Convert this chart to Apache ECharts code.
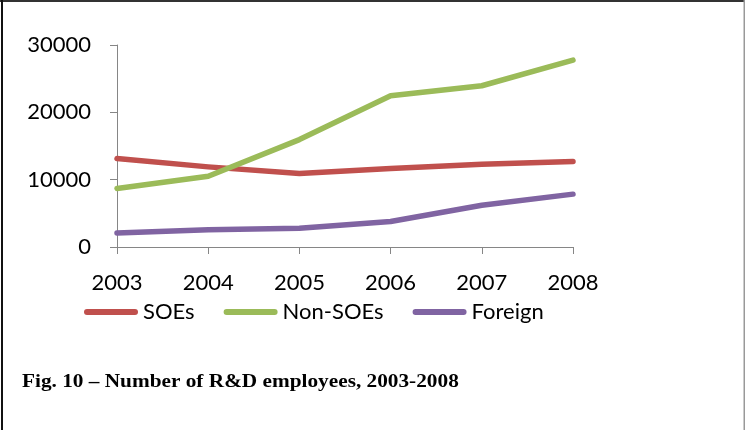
<!DOCTYPE html>
<html>
<head>
<meta charset="utf-8">
<script src="https://cdn.jsdelivr.net/npm/echarts@6/dist/echarts.min.js"></script>
<style>
html,body{margin:0;padding:0;background:#fff;}
#c{width:745px;height:430px;}
</style>
</head>
<body>
<div id="c"></div>
<script>
var years = ['2003','2004','2005','2006','2007','2008'];
var seriesNames = ['SOEs','Non-SOEs','Foreign'];
var soes = [13150, 11900, 10900, 11650, 12300, 12700];
var nonSoes = [8700, 10500, 15950, 22450, 23950, 27750];
var foreign = [2080, 2580, 2780, 3780, 6200, 7850];
var yTicks = [0, 10000, 20000, 30000];
var caption = 'Fig. 10 \u2013 Number of R&D employees, 2003-2008';

var colors = ['#C0504D', '#9BBB59', '#8064A2'];
var legendIcon = 'path://M3,0 L51,0 A3,3 0 0 1 51,6 L3,6 A3,3 0 0 1 3,0 Z';
var font = 'Lato';

var chart = echarts.init(document.getElementById('c'), null, {renderer: 'canvas'});
function mk(name, data, i) {
  return {
    name: name, type: 'line', data: data, symbol: 'none', smooth: false,
    lineStyle: {color: colors[i], width: 5.5, cap: 'round', join: 'round'},
    itemStyle: {color: colors[i]},
    emphasis: {disabled: true}, animation: false
  };
}
chart.setOption({
  animation: false,
  grid: {left: 117, right: 172, top: 45, bottom: 183, containLabel: false},
  xAxis: {
    type: 'category', data: years, boundaryGap: false,
    axisLine: {show: true, lineStyle: {color: '#868686', width: 1}},
    axisTick: {show: true, alignWithLabel: true, length: 7, lineStyle: {color: '#868686'}},
    axisLabel: {color: '#000', fontFamily: font, fontSize: 22, margin: 25}
  },
  yAxis: {
    type: 'value', min: yTicks[0], max: yTicks[yTicks.length - 1], interval: yTicks[1] - yTicks[0],
    axisLine: {show: true, lineStyle: {color: '#868686', width: 1}},
    axisTick: {show: true, length: 7, lineStyle: {color: '#868686'}},
    splitLine: {show: false},
    axisLabel: {color: '#000', fontFamily: font, fontSize: 22, margin: 26,
      formatter: function (v) { return String(v); }}
  },
  legend: {
    data: seriesNames.map(function (n) { return {name: n, icon: legendIcon}; }),
    left: 79, top: 296, itemWidth: 54, itemHeight: 6, itemGap: 29,
    textStyle: {color: '#000', fontFamily: font, fontSize: 22},
    selectedMode: false
  },
  series: [mk(seriesNames[0], soes, 0), mk(seriesNames[1], nonSoes, 1), mk(seriesNames[2], foreign, 2)],
  graphic: [
    {type: 'rect', shape: {x: 0, y: 0, width: 745, height: 2}, style: {fill: '#333'}, silent: true},
    {type: 'rect', shape: {x: 1, y: 0, width: 2, height: 430}, style: {fill: '#111'}, silent: true},
    {type: 'rect', shape: {x: 743.5, y: 0, width: 1.5, height: 430}, style: {fill: '#999'}, silent: true},
    {type: 'text', x: 22, y: 373, scaleX: 1.12, style: {text: caption, fill: '#000', verticalAlign: 'top',
      font: 'bold 19px "Liberation Serif", "Times New Roman", serif'}, silent: true}
  ]
});
</script>
</body>
</html>
